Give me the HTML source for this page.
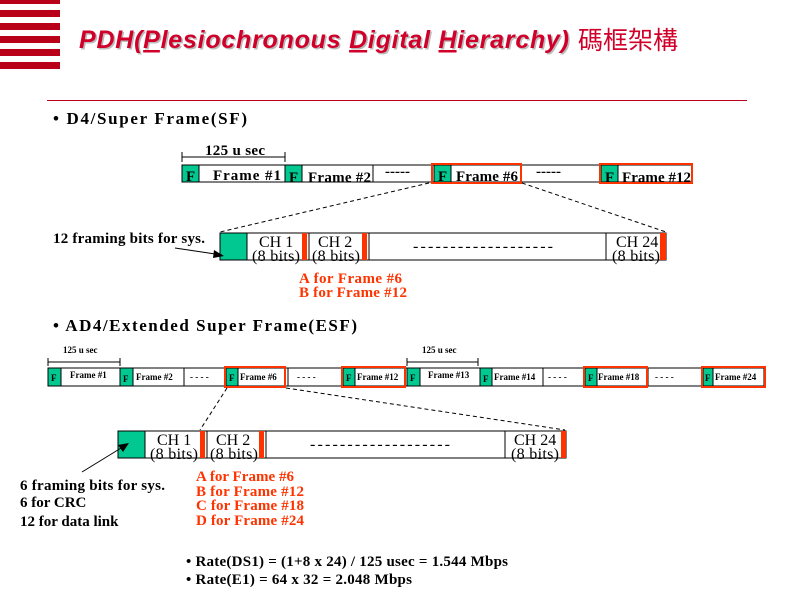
<!DOCTYPE html>
<html><head><meta charset="utf-8"><style>
html,body{margin:0;padding:0;background:#fff;}
svg{display:block}
.s{font-family:"Liberation Serif",serif;font-weight:bold;}
.n{font-family:"Liberation Serif",serif;font-weight:normal;}
</style></head><body>
<svg width="800" height="600" viewBox="0 0 800 600" xmlns="http://www.w3.org/2000/svg">
<g fill="#b80018">
<rect x="0" y="0" width="60" height="4"/>
<rect x="0" y="10" width="60" height="7"/>
<rect x="0" y="23" width="60" height="7"/>
<rect x="0" y="36" width="60" height="7"/>
<rect x="0" y="49" width="60" height="7"/>
<rect x="0" y="62" width="60" height="7"/>
</g>
<text x="80.5" y="49.5" font-family="Liberation Sans,sans-serif" font-size="25" font-weight="bold" font-style="italic" fill="#bbb" textLength="490">PDH(Plesiochronous Digital Hierarchy)</text>
<text x="79" y="48" font-family="Liberation Sans,sans-serif" font-size="25" font-weight="bold" font-style="italic" fill="#d0002a" textLength="490">PDH(<tspan text-decoration="underline">P</tspan>lesiochronous <tspan text-decoration="underline">D</tspan>igital <tspan text-decoration="underline">H</tspan>ierarchy)</text>
<text x="578" y="49" font-family="Liberation Sans,'Noto Sans CJK TC',sans-serif" font-size="25" fill="#d0002a">碼框架構</text>
<rect x="47" y="100" width="700" height="1" fill="#c00020"/>

<g class="s" font-size="17">
<text x="53" y="124" textLength="194">• D4/Super Frame(SF)</text>
<text x="53" y="331" textLength="304">• AD4/Extended Super Frame(ESF)</text>
</g>

<!-- SF row -->
<g class="s" font-size="15">
<line x1="182" y1="157" x2="285" y2="157" stroke="#000"/>
<line x1="182" y1="152" x2="182" y2="162" stroke="#000"/>
<line x1="285" y1="152" x2="285" y2="162" stroke="#000"/>
<text x="205" y="155" textLength="60">125 u sec</text>
<rect x="182" y="165" width="510" height="17" fill="#fff" stroke="#000"/>
<rect x="182" y="165" width="17" height="17" fill="#00c890" stroke="#000"/>
<rect x="285" y="165" width="17" height="17" fill="#00c890" stroke="#000"/>
<rect x="434" y="165" width="17" height="17" fill="#00c890" stroke="#000"/>
<rect x="601" y="165" width="17" height="17" fill="#00c890" stroke="#000"/>
<line x1="373" y1="165" x2="373" y2="182" stroke="#000"/>
<line x1="521" y1="165" x2="521" y2="182" stroke="#000"/>
<rect x="432" y="164" width="89" height="19" fill="none" stroke="#ff3300" stroke-width="2"/>
<rect x="600" y="164" width="92" height="19" fill="none" stroke="#ff3300" stroke-width="2"/>
<text x="186" y="181">F</text><text x="289" y="182">F</text><text x="438" y="181">F</text><text x="605" y="182">F</text>
<text x="213" y="180" textLength="68">Frame #1</text>
<text x="308" y="182" textLength="63">Frame #2</text>
<text x="385" y="176">-----</text>
<text x="456" y="181" textLength="62">Frame #6</text>
<text x="536" y="176">-----</text>
<text x="622" y="182" textLength="69">Frame #12</text>
</g>
<g stroke="#000" stroke-dasharray="4,3">
<line x1="429" y1="183" x2="220" y2="232"/>
<line x1="522" y1="183" x2="666" y2="232"/>
</g>
<!-- SF expanded -->
<g class="n" font-size="16">
<rect x="220" y="233" width="446" height="27" fill="#fff" stroke="#000"/>
<rect x="220" y="233" width="27" height="27" fill="#00c890" stroke="#000"/>
<rect x="302" y="233" width="5" height="27" fill="#ff3300"/>
<line x1="309" y1="233" x2="309" y2="260" stroke="#000"/>
<rect x="362" y="233" width="5" height="27" fill="#ff3300"/>
<line x1="369" y1="233" x2="369" y2="260" stroke="#000"/>
<line x1="606" y1="233" x2="606" y2="260" stroke="#000"/>
<rect x="660" y="233" width="6" height="27" fill="#ff3300"/>
<text x="259" y="247">CH 1</text><text x="252" y="261" textLength="48">(8 bits)</text>
<text x="318" y="247">CH 2</text><text x="312" y="261" textLength="48">(8 bits)</text>
<text x="616" y="247">CH 24</text><text x="612" y="261" textLength="48">(8 bits)</text>
<text x="413" y="251" textLength="140">-------------------</text>
</g>
<g class="s" font-size="15">
<text x="53" y="243" textLength="152">12 framing bits for sys.</text>
<line x1="175" y1="248" x2="222" y2="255" stroke="#000"/>
<polygon points="224,256 214,250 213,258" fill="#000"/>
<g fill="#ff3300"><text x="299" y="283" textLength="103">A for Frame #6</text><text x="299" y="297" textLength="108">B for Frame #12</text></g>
</g>

<!-- ESF row -->
<g class="s" font-size="9">
<line x1="48" y1="362" x2="120" y2="362" stroke="#000"/>
<line x1="48" y1="358" x2="48" y2="366" stroke="#000"/>
<line x1="120" y1="358" x2="120" y2="366" stroke="#000"/>
<text x="63" y="353">125 u sec</text>
<line x1="407" y1="362" x2="478" y2="362" stroke="#000"/>
<line x1="407" y1="358" x2="407" y2="366" stroke="#000"/>
<line x1="478" y1="358" x2="478" y2="366" stroke="#000"/>
<text x="422" y="353">125 u sec</text>
<rect x="48" y="368" width="716" height="18" fill="#fff" stroke="#000"/>
<g fill="#00c890" stroke="#000">
<rect x="48" y="368" width="13" height="18"/><rect x="120" y="368" width="13" height="18"/>
<rect x="226" y="368" width="12" height="18"/><rect x="343" y="368" width="12" height="18"/>
<rect x="407" y="368" width="13" height="18"/><rect x="480" y="368" width="12" height="18"/>
<rect x="585" y="368" width="12" height="18"/><rect x="703" y="368" width="10" height="18"/>
</g>
<g stroke="#000"><line x1="184" y1="368" x2="184" y2="386"/><line x1="288" y1="368" x2="288" y2="386"/><line x1="543" y1="368" x2="543" y2="386"/><line x1="648" y1="368" x2="648" y2="386"/></g>
<g fill="none" stroke="#ff3300" stroke-width="2">
<rect x="225" y="367" width="60" height="20"/><rect x="342" y="367" width="63" height="20"/>
<rect x="584" y="367" width="63" height="20"/><rect x="702" y="367" width="63" height="20"/>
</g>
<text x="51" y="381">F</text><text x="123" y="382">F</text><text x="229" y="381">F</text><text x="346" y="381">F</text>
<text x="410" y="381">F</text><text x="483" y="382">F</text><text x="588" y="381">F</text><text x="705" y="381">F</text>
<text x="70" y="378">Frame #1</text><text x="136" y="380">Frame #2</text>
<text x="240" y="380">Frame #6</text><text x="357" y="380">Frame #12</text>
<text x="428" y="378">Frame #13</text><text x="494" y="380">Frame #14</text>
<text x="598" y="380">Frame #18</text><text x="715" y="380">Frame #24</text>
<text x="190" y="380">- - - -</text><text x="297" y="380">- - - -</text>
<text x="548" y="380">- - - -</text><text x="655" y="380">- - - -</text>
</g>
<g stroke="#000" stroke-dasharray="4,3">
<line x1="227" y1="388" x2="200" y2="430"/>
<line x1="286" y1="388" x2="565" y2="430"/>
</g>
<!-- ESF expanded -->
<g class="n" font-size="16">
<rect x="118" y="431" width="448" height="27" fill="#fff" stroke="#000"/>
<rect x="118" y="431" width="27" height="27" fill="#00c890" stroke="#000"/>
<rect x="200" y="431" width="5" height="27" fill="#ff3300"/>
<line x1="207" y1="431" x2="207" y2="458" stroke="#000"/>
<rect x="259" y="431" width="5" height="27" fill="#ff3300"/>
<line x1="266" y1="431" x2="266" y2="458" stroke="#000"/>
<line x1="505" y1="431" x2="505" y2="458" stroke="#000"/>
<rect x="561" y="431" width="5" height="27" fill="#ff3300"/>
<text x="157" y="445">CH 1</text><text x="150" y="459" textLength="48">(8 bits)</text>
<text x="216" y="445">CH 2</text><text x="210" y="459" textLength="48">(8 bits)</text>
<text x="514" y="445">CH 24</text><text x="511" y="459" textLength="48">(8 bits)</text>
<text x="310" y="449" textLength="140">-------------------</text>
</g>
<g class="s" font-size="15">
<line x1="82" y1="472" x2="126" y2="445" stroke="#000"/>
<polygon points="129,443 118,445 123,452" fill="#000"/>
<text x="20" y="490" textLength="145">6 framing bits for sys.</text>
<text x="20" y="507">6 for CRC</text>
<text x="20" y="526">12 for data link</text>
<g fill="#ff3300"><text x="196" y="481" textLength="98">A for Frame #6</text><text x="196" y="496" textLength="108">B for Frame #12</text><text x="196" y="510" textLength="108">C for Frame #18</text><text x="196" y="525" textLength="108">D for Frame #24</text></g>
<text x="186" y="566" textLength="322">• Rate(DS1) = (1+8 x 24) / 125 usec = 1.544 Mbps</text>
<text x="186" y="584" textLength="226">• Rate(E1) = 64 x 32 = 2.048 Mbps</text>
</g>
</svg>
</body></html>
